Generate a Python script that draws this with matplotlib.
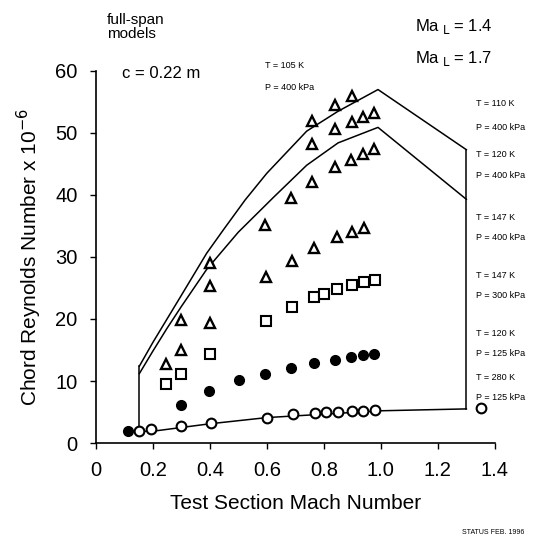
import matplotlib
matplotlib.use("Agg")
import matplotlib.pyplot as plt

plt.rcParams['font.family'] = ['Liberation Sans', 'DejaVu Sans']

# open circles: T = 280 K, P = 125 kPa
m_280 = [0.153, 0.194, 0.30, 0.403, 0.602, 0.693, 0.77, 0.808, 0.85, 0.898, 0.939, 0.98]
re_280 = [1.9, 2.2, 2.7, 3.3, 4.1, 4.6, 4.9, 4.95, 5.0, 5.1, 5.15, 5.4]
m_280_hi = [1.352]
re_280_hi = [5.6]

# filled circles: T = 120 K, P = 125 kPa
m_120lo = [0.114, 0.298, 0.398, 0.503, 0.594, 0.685, 0.767, 0.84, 0.896, 0.939, 0.976]
re_120lo = [2.0, 6.1, 8.4, 10.2, 11.2, 12.1, 12.95, 13.4, 13.8, 14.2, 14.35]

# squares: T = 147 K, P = 300 kPa
m_147lo = [0.247, 0.30, 0.399, 0.597, 0.69, 0.764, 0.80, 0.845, 0.90, 0.941, 0.98]
re_147lo = [9.5, 11.2, 14.35, 19.6, 21.9, 23.5, 24.0, 24.8, 25.5, 26.0, 26.3]

# triangles: T = 147 K, P = 400 kPa
m_147 = [0.247, 0.30, 0.399, 0.597, 0.69, 0.764, 0.845, 0.90, 0.941]
re_147 = [12.7, 15.0, 19.4, 26.7, 29.4, 31.5, 33.3, 34.1, 34.6]

# triangles: T = 120 K, P = 400 kPa
m_120 = [0.30, 0.399, 0.594, 0.685, 0.76, 0.84, 0.896, 0.937, 0.976]
re_120 = [19.8, 25.3, 35.2, 39.5, 42.1, 44.5, 45.6, 46.6, 47.4]

# triangles: T = 110 K, P = 400 kPa
m_110 = [0.399, 0.76, 0.84, 0.899, 0.937, 0.976]
re_110 = [29.0, 48.2, 50.6, 51.8, 52.6, 53.3]

# triangles: T = 105 K, P = 400 kPa
m_105 = [0.76, 0.84, 0.899]
re_105 = [51.9, 54.5, 55.9]

# envelope Ma_L = 1.4 (outer) and Ma_L = 1.7 (inner), lower limit
env_outer_m = [0.153, 0.2, 0.25, 0.3, 0.389, 0.448, 0.524, 0.6, 0.74, 0.85, 0.99, 1.30]
env_outer_re = [12.4, 16.2, 20.0, 23.8, 30.6, 34.4, 39.2, 43.5, 50.3, 53.5, 57.0, 47.3]
env_inner_m = [0.153, 0.2, 0.25, 0.3, 0.389, 0.5, 0.623, 0.74, 0.85, 0.99, 1.30]
env_inner_re = [11.2, 14.8, 18.5, 22.0, 28.0, 34.0, 39.6, 44.8, 48.4, 50.9, 39.3]
env_low_m = [0.153, 0.2, 0.4, 0.6, 1.0, 1.30]
env_low_re = [1.9, 1.9, 3.1, 4.1, 5.2, 5.5]

fig = plt.figure(figsize=(5.35, 5.4), dpi=100)
ax = fig.add_axes([0.179, 0.1796, 0.746, 0.689])

# boundary lines
ax.plot(env_outer_m, env_outer_re, color='black', lw=1.1, clip_on=False)
ax.plot(env_inner_m, env_inner_re, color='black', lw=1.1, clip_on=False)
ax.plot(env_low_m, env_low_re, color='black', lw=1.1, clip_on=False)
ax.plot([env_low_m[0], env_outer_m[0]], [env_low_re[0], env_outer_re[0]], color='black', lw=1.1)
ax.plot([env_low_m[-1], env_outer_m[-1]], [env_low_re[-1], env_outer_re[-1]], color='black', lw=1.1, clip_on=False)

tri = dict(marker='^', ls='none', ms=7.5, mfc='white', mec='black', mew=1.7, clip_on=False)
ax.plot(m_105, re_105, **tri)
ax.plot(m_110, re_110, **tri)
ax.plot(m_120, re_120, **tri)
ax.plot(m_147, re_147, **tri)
ax.plot(m_147lo, re_147lo, marker='s', ls='none', ms=6.5, mfc='white', mec='black', mew=1.5)
ax.plot(m_120lo, re_120lo, marker='o', ls='none', ms=7, mfc='black', mec='black')
ax.plot(m_280, re_280, marker='o', ls='none', ms=7, mfc='white', mec='black', mew=1.5, zorder=4)
ax.plot(m_280_hi, re_280_hi, marker='o', ls='none', ms=7, mfc='white', mec='black', mew=1.5, clip_on=False)

ax.set_xlim(0, 1.4)
ax.set_ylim(0, 60)
ax.set_xticks([0, 0.2, 0.4, 0.6, 0.8, 1.0, 1.2, 1.4])
ax.set_xticklabels(['0', '0.2', '0.4', '0.6', '0.8', '1.0', '1.2', '1.4'])
ax.set_yticks([0, 10, 20, 30, 40, 50, 60])
ax.spines['top'].set_visible(False)
ax.spines['right'].set_visible(False)
for s in ['left', 'bottom']:
    ax.spines[s].set_linewidth(1.2)
ax.tick_params(direction='out', length=4, width=1, labelsize=14.5, pad=9)
ax.set_xlabel('Test Section Mach Number', fontsize=15, labelpad=10)
ax.set_ylabel('Chord Reynolds Number x 10$^{-6}$', fontsize=15, labelpad=8)

# annotations
fig.text(107 / 535, 1 - 27 / 540, 'full-span\nmodels', fontsize=11, va='center', linespacing=0.95)
fig.text(122 / 535, 1 - 73 / 540, 'c = 0.22 m', fontsize=12, va='center')
fig.text(415 / 535, 1 - 27 / 540, 'Ma$_{\\ \\mathrm{L}}$ = 1.4', fontsize=12, va='center')
fig.text(415 / 535, 1 - 59 / 540, 'Ma$_{\\ \\mathrm{L}}$ = 1.7', fontsize=12, va='center')
fig.text(265 / 535, 1 - 65 / 540, 'T = 105 K', fontsize=6.5, va='center')
fig.text(265 / 535, 1 - 87 / 540, 'P = 400 kPa', fontsize=6.5, va='center')

right_labels = [
    (103, 'T = 110 K'), (127, 'P = 400 kPa'),
    (155, 'T = 120 K'), (175, 'P = 400 kPa'),
    (217, 'T = 147 K'), (237, 'P = 400 kPa'),
    (275, 'T = 147 K'), (295, 'P = 300 kPa'),
    (333, 'T = 120 K'), (353, 'P = 125 kPa'),
    (377, 'T = 280 K'), (397, 'P = 125 kPa'),
]
for ypx, txt in right_labels:
    fig.text(476 / 535, 1 - ypx / 540, txt, fontsize=6.5, va='center')

fig.text(462 / 535, 1 - 533 / 540, 'STATUS FEB. 1996', fontsize=5, va='center')

fig.savefig('out.png', dpi=100)
